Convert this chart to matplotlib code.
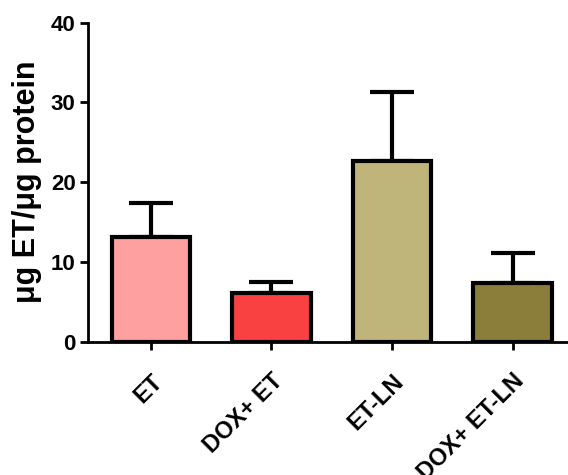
import matplotlib
matplotlib.use("Agg")
import matplotlib.pyplot as plt
import numpy as np

groups = ["ET", "DOX+ ET", "ET-LN", "DOX+ ET-LN"]
means = [13.1, 6.1, 22.6, 7.3]
errs = [4.25, 1.45, 8.7, 3.8]
colors = ["#FFA0A0", "#F94141", "#BFB57A", "#8B7D3A"]

plt.rcParams['font.family'] = ['Liberation Sans', 'DejaVu Sans']
plt.rcParams['font.weight'] = 'bold'

fig = plt.figure(figsize=(5.68, 4.75), dpi=100)
ax = fig.add_axes([0.155, 0.2806, 0.845, 0.6716])

x = np.arange(len(groups))
ax.bar(x, means, width=0.65, color=colors, edgecolor='black', linewidth=3.0, zorder=2)
ax.errorbar(x, means, yerr=[np.zeros(len(errs)), errs], fmt='none', ecolor='black',
            elinewidth=3.0, capsize=16, capthick=3.0, zorder=1)

ax.set_xlim(-0.52, 3.46)
ax.set_ylim(0, 40)
ax.set_yticks([0, 10, 20, 30, 40])
ax.set_xticks(x)
ax.set_xticklabels(groups, rotation=45, ha='right', rotation_mode='anchor', fontsize=17, fontweight='bold')
ax.tick_params(axis='y', labelsize=16, width=2, length=6, pad=3)
ax.tick_params(axis='x', width=2, length=6, pad=14)
for lab in ax.get_yticklabels():
    lab.set_fontweight('bold')
ax.set_ylabel("μg ET/μg protein", fontsize=22, fontweight='bold')
ax.yaxis.set_label_coords(-0.096, 0.5)

ax.spines['top'].set_visible(False)
ax.spines['right'].set_visible(False)
ax.spines['left'].set_linewidth(2)
ax.spines['bottom'].set_linewidth(2)

fig.savefig("out.png", dpi=100)
